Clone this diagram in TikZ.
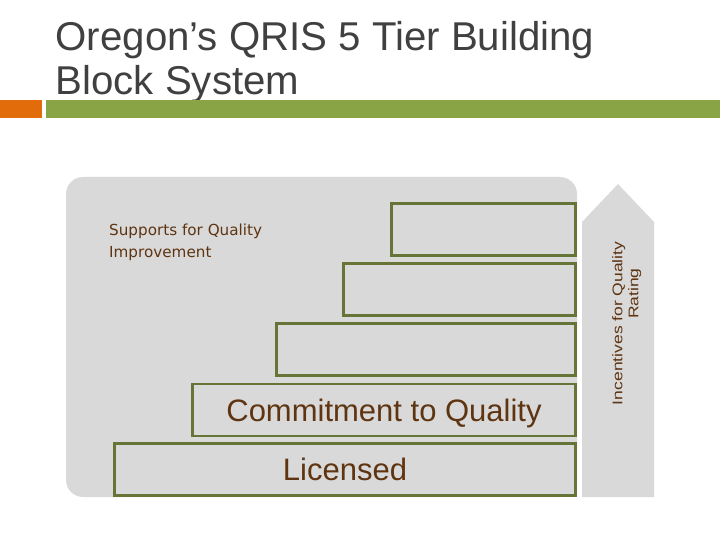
\documentclass[tikz,border=0pt]{standalone}
\usepackage{fontspec}
\setmainfont{Liberation Sans}
\newfontfamily\suppfont{DejaVu Sans}
\newfontfamily\widefont[FakeStretch=1.25]{Liberation Sans}
\usepackage{xcolor}
\definecolor{titlegray}{RGB}{64,64,64}
\definecolor{barorange}{RGB}{227,108,10}
\definecolor{bargreen}{RGB}{137,164,68}
\definecolor{blockgray}{RGB}{217,217,217}
\definecolor{tierolive}{RGB}{102,116,56}
\definecolor{tierbrown}{RGB}{94,52,17}

\begin{document}
\begin{tikzpicture}[x=1pt, y=-1pt,
                    tier/.style={draw=tierolive, line width=2.8pt, fill=blockgray,
                                 minimum height=52pt, inner sep=0pt, outer sep=0pt,
                                 text=tierbrown, text height=22pt, text depth=0pt,
                                 font=\fontsize{31}{31}\selectfont}]

    \useasboundingbox (0,0) rectangle (720,540);

    % ==========================================================
    % titulo
    % ==========================================================
    \node[anchor=base west, inner sep=0pt, text=titlegray,
          font=\fontsize{40.2}{45}\selectfont] (title1) at (55.5,50.5)
          {Oregon’s QRIS 5 Tier Building};
    \node[anchor=base west, inner sep=0pt, text=titlegray,
          font=\fontsize{40.2}{45}\selectfont] (title2) at (55.5,94.5)
          {Block System};

    % barras bajo el titulo
    \fill[barorange] (0,100) rectangle (42,118);
    \fill[bargreen] (46,100) rectangle (720,118);

    % ==========================================================
    % bloques
    % ==========================================================

    % fondo
    \fill[blockgray, rounded corners=17pt] (66,177) rectangle (577,497);

    % flecha de incentivos
    \fill[blockgray] (582,222) -- (618,184) -- (654,222) -- (654,497) -- (582,497) -- cycle;
    \node[rotate=90, anchor=base, inner sep=0pt, text=tierbrown,
          font=\widefont\fontsize{14}{16}\selectfont] (incent1) at (622.3,323.3)
          {Incentives for Quality};
    \node[rotate=90, anchor=base, inner sep=0pt, text=tierbrown,
          font=\widefont\fontsize{14}{16}\selectfont] (incent2) at (638.3,293.7)
          {Rating};

    % apoyos
    \node[anchor=base west, inner sep=0pt, text=tierbrown,
          font=\suppfont\fontsize{15.2}{22}\selectfont] (supp1) at (109,235.5)
          {Supports for Quality};
    \node[anchor=base west, inner sep=0pt, text=tierbrown,
          font=\suppfont\fontsize{15.2}{22}\selectfont] (supp2) at (109,257)
          {Improvement};

    % escalones
    \foreach \n/\cx/\cy/\w/\l in {1/345/469.5/461/Licensed,
                                  2/384/410/383/Commitment to Quality,
                                  3/426/349.5/299/{},
                                  4/459.5/289.5/232/{},
                                  5/483.5/229.5/184/{}} {
        \node[tier, minimum width=\w pt] (tier\n) at (\cx,\cy) {\l};
    }

\end{tikzpicture}
\end{document}
